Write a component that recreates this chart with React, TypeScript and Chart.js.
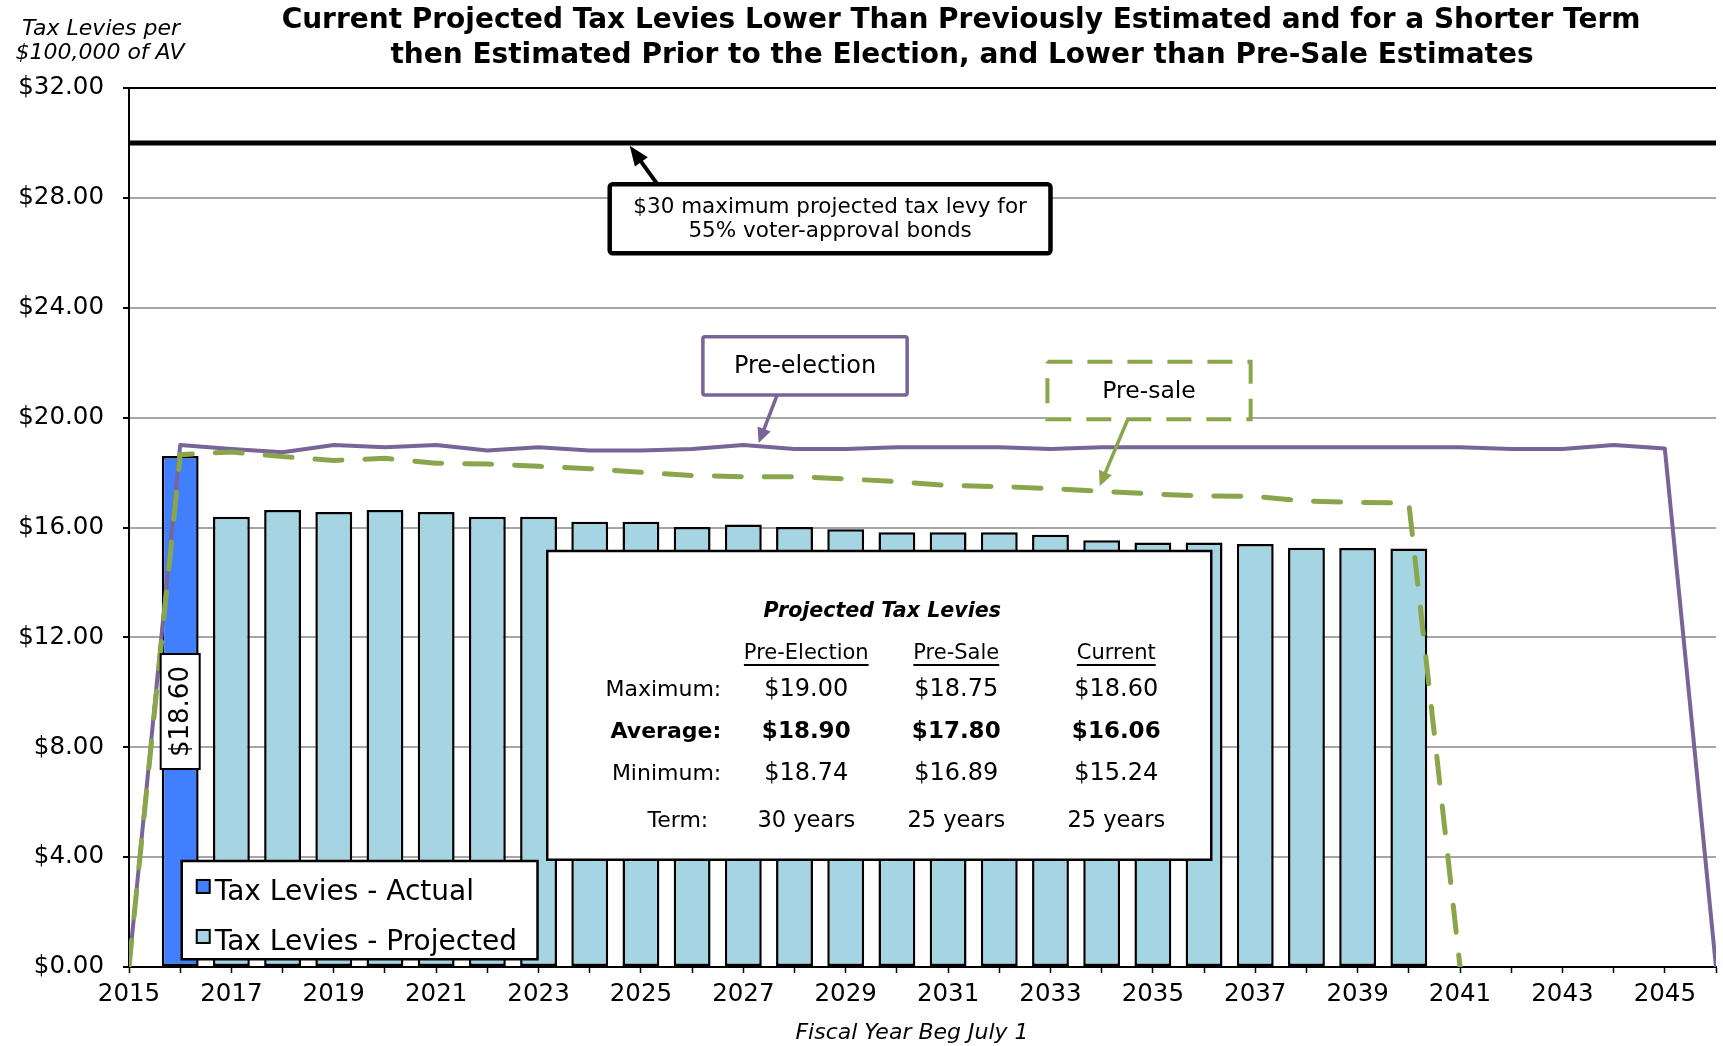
import React, { useEffect, useRef } from "react";
import { Chart, registerables } from "chart.js";

Chart.register(...registerables);

// Fiscal years (beginning July 1) on the x axis
const fiscalYears = [
  2015, 2016, 2017, 2018, 2019, 2020, 2021, 2022, 2023, 2024, 2025, 2026, 2027, 2028, 2029, 2030,
  2031, 2032, 2033, 2034, 2035, 2036, 2037, 2038, 2039, 2040, 2041, 2042, 2043, 2044, 2045, 2046,
];
const xTickLabels = [2015, 2017, 2019, 2021, 2023, 2025, 2027, 2029, 2031, 2033, 2035, 2037, 2039, 2041, 2043, 2045];

// Tax levies per $100,000 of assessed value, aligned with fiscalYears
const actualLevies: (number | null)[] = [
  null, 18.6, null, null, null, null, null, null, null, null, null, null, null, null, null, null,
  null, null, null, null, null, null, null, null, null, null, null, null, null, null, null, null,
];
const projectedLevies: (number | null)[] = [
  null, null, 16.39, 16.64, 16.56, 16.64, 16.56, 16.39, 16.39, 16.21, 16.21, 16.02, 16.11, 16.02, 15.94, 15.83,
  15.83, 15.83, 15.74, 15.54, 15.45, 15.45, 15.4, 15.26, 15.25, 15.24, null, null, null, null, null, null,
];
const preElectionLevies: (number | null)[] = [
  0, 19.0, 18.86, 18.74, 19.0, 18.92, 19.0, 18.8, 18.92, 18.8, 18.8, 18.86, 19.0, 18.86, 18.86, 18.92,
  18.92, 18.92, 18.86, 18.92, 18.92, 18.92, 18.92, 18.92, 18.92, 18.92, 18.92, 18.86, 18.86, 19.0, 18.88, 0,
];
const preSaleLevies: (number | null)[] = [
  0, 18.65, 18.75, 18.58, 18.44, 18.52, 18.34, 18.31, 18.23, 18.14, 18.01, 17.89, 17.85, 17.85, 17.77, 17.67,
  17.53, 17.49, 17.42, 17.32, 17.22, 17.15, 17.13, 16.96, 16.91, 16.89, 0, null, null, null, null, null,
];
const maxLevyLimit = 30;

const yAxisMax = 32;
const yAxisStep = 4;

const titleLines = [
  "Current Projected Tax Levies Lower Than Previously Estimated and for a Shorter Term",
  "then Estimated Prior to the Election, and Lower than Pre-Sale Estimates",
];
const yAxisTitleLines = ["Tax Levies per", "$100,000 of AV"];
const xAxisTitle = "Fiscal Year Beg July 1";
const maxCalloutLines = ["$30 maximum projected tax levy for", "55% voter-approval bonds"];
const summaryTitle = "Projected Tax Levies";
const summaryColumns = ["Pre-Election", "Pre-Sale", "Current"];
const summaryRows = ["Maximum:", "Average:", "Minimum:", "Term:"];

const FONT = '"DejaVu Sans", sans-serif';
const BLUE = "#4080FF";
const LIGHT_BLUE = "#A5D5E3";
const PURPLE = "#786497";
const GREEN = "#8AA64C";

const toPoints = (vals: (number | null)[]) =>
  fiscalYears.map((x, i) => ({ x, y: vals[i] })).filter((p) => p.y !== null) as { x: number; y: number }[];

const currentLevies = fiscalYears.map((_, i) => actualLevies[i] ?? projectedLevies[i]);

function levyStats(vals: (number | null)[]) {
  const nums = vals.filter((v) => v !== null && v > 0) as number[];
  const sum = nums.reduce((a, b) => a + b, 0);
  return {
    max: Math.max(...nums),
    avg: sum / nums.length,
    min: Math.min(...nums),
    term: nums.length,
  };
}

const money = (v: number) => "$" + v.toFixed(2);

function drawArrow(ctx: CanvasRenderingContext2D, x1: number, y1: number, x2: number, y2: number,
  color: string, width: number, headLen: number, headHalf: number) {
  const a = Math.atan2(y2 - y1, x2 - x1);
  const bx = x2 - Math.cos(a) * headLen;
  const by = y2 - Math.sin(a) * headLen;
  ctx.save();
  ctx.strokeStyle = color;
  ctx.fillStyle = color;
  ctx.lineWidth = width;
  ctx.lineCap = "butt";
  ctx.beginPath();
  ctx.moveTo(x1, y1);
  ctx.lineTo(bx + Math.cos(a) * 2, by + Math.sin(a) * 2);
  ctx.stroke();
  ctx.beginPath();
  ctx.moveTo(x2, y2);
  ctx.lineTo(bx + Math.sin(a) * headHalf, by - Math.cos(a) * headHalf);
  ctx.lineTo(bx - Math.sin(a) * headHalf, by + Math.cos(a) * headHalf);
  ctx.closePath();
  ctx.fill();
  ctx.restore();
}

function drawBox(ctx: CanvasRenderingContext2D, x1: number, y1: number, x2: number, y2: number,
  color: string, width: number, dash: number[] = [], radius = 2) {
  ctx.save();
  ctx.fillStyle = "#fff";
  ctx.strokeStyle = color;
  ctx.lineWidth = width;
  ctx.setLineDash(dash);
  ctx.beginPath();
  ctx.roundRect(x1, y1, x2 - x1, y2 - y1, radius);
  ctx.fill();
  ctx.stroke();
  ctx.restore();
}

function text(ctx: CanvasRenderingContext2D, s: string, x: number, y: number, font: string,
  align: CanvasTextAlign = "center") {
  ctx.font = font;
  ctx.textAlign = align;
  ctx.textBaseline = "middle";
  ctx.fillStyle = "#000";
  ctx.fillText(s, x, y);
}

const overlayPlugin = {
  id: "levyOverlay",
  afterDatasetsDraw(chart: any) {
    const { ctx } = chart;
    const xs = chart.scales.x;
    const ys = chart.scales.y;
    const px = (v: number) => xs.getPixelForValue(v);
    const py = (v: number) => ys.getPixelForValue(v);

    // value label on the actual-levy bar
    const actualIdx = actualLevies.findIndex((v) => v !== null);
    const actualVal = actualLevies[actualIdx] as number;
    {
      const cx = px(fiscalYears[actualIdx]);
      const cy = py(actualVal / 2);
      const label = money(actualVal);
      ctx.save();
      ctx.font = `26px ${FONT}`;
      const w = ctx.measureText(label).width;
      drawBox(ctx, cx - 19.5, cy - w / 2 - 12, cx + 19.5, cy + w / 2 + 12, "#000", 2, [], 0);
      ctx.translate(cx, cy);
      ctx.rotate(-Math.PI / 2);
      text(ctx, label, 0, 1, `26px ${FONT}`);
      ctx.restore();
    }

    // $30 limit callout
    drawArrow(ctx, px(2025.32), py(28.5), px(2024.78), py(29.9), "#000", 4, 20, 8);
    drawBox(ctx, px(2024.39), py(28.5), px(2033.0), py(25.98), "#000", 4.5, [], 3);
    {
      const cx = (px(2024.39) + px(2033.0)) / 2;
      const top = py(28.5);
      text(ctx, maxCalloutLines[0], cx, top + 23, `21.5px ${FONT}`);
      text(ctx, maxCalloutLines[1], cx, top + 47, `21.5px ${FONT}`);
    }

    // pre-election callout
    drawArrow(ctx, px(2027.66), py(20.82), px(2027.3), py(19.08), PURPLE, 3.5, 15, 7);
    drawBox(ctx, px(2026.21), py(22.94), px(2030.2), py(20.82), PURPLE, 3.5, [], 2);
    text(ctx, "Pre-election", (px(2026.21) + px(2030.2)) / 2, (py(22.94) + py(20.82)) / 2 + 1, `24px ${FONT}`);

    // pre-sale callout
    drawArrow(ctx, px(2034.51), py(19.94), px(2033.96), py(17.5), GREEN, 3.5, 15, 7);
    drawBox(ctx, px(2032.94), py(22.03), px(2036.91), py(19.94), GREEN, 4, [25, 15], 0);
    text(ctx, "Pre-sale", (px(2032.94) + px(2036.91)) / 2, (py(22.03) + py(19.94)) / 2 + 1, `23.5px ${FONT}`);

    // summary table
    {
      const x0 = px(2023.17);
      const y0 = py(15.14);
      drawBox(ctx, x0, y0, px(2036.14), py(3.9), "#000", 2.5, [], 0);
      text(ctx, summaryTitle, x0 + 335, y0 + 61, `italic bold 20.6px ${FONT}`);
      const colX = [259, 409, 569];
      const rowY = [139, 181, 223, 270];
      const stats = [levyStats(preElectionLevies), levyStats(preSaleLevies), levyStats(currentLevies)];
      summaryColumns.forEach((c, i) => {
        const cx = x0 + colX[i];
        const cy = y0 + 102;
        text(ctx, c, cx, cy, `21px ${FONT}`);
        const w = ctx.measureText(c).width;
        ctx.save();
        ctx.strokeStyle = "#000";
        ctx.lineWidth = 2;
        ctx.beginPath();
        ctx.moveTo(cx - w / 2, cy + 12);
        ctx.lineTo(cx + w / 2, cy + 12);
        ctx.stroke();
        ctx.restore();
      });
      summaryRows.forEach((r, j) => {
        const bold = j === 1 ? "bold " : "";
        const labelX = j === 3 ? 161 : 174;
        text(ctx, r, x0 + labelX, y0 + rowY[j], `${bold}22px ${FONT}`, "right");
        stats.forEach((s, i) => {
          const vals = [money(s.max), money(s.avg), money(s.min), `${s.term} years`];
          const size = j === 1 ? 23 : j === 3 ? 22.5 : 24;
          text(ctx, vals[j], x0 + colX[i], y0 + rowY[j], `${bold}${size}px ${FONT}`);
        });
      });
    }

    // legend for the bar series
    {
      const x0 = px(2016.03);
      const y0 = py(3.86);
      drawBox(ctx, x0, y0, px(2022.98), py(0.28), "#000", 2.5, [], 0);
      const bars = chart.data.datasets.filter((d: any) => d.type === "bar");
      bars.forEach((d: any, i: number) => {
        const ty = y0 + 31 + i * 50;
        ctx.save();
        ctx.fillStyle = d.backgroundColor;
        ctx.strokeStyle = "#000";
        ctx.lineWidth = 2;
        ctx.fillRect(x0 + 15, ty - 12, 13, 13);
        ctx.strokeRect(x0 + 15, ty - 12, 13, 13);
        ctx.restore();
        text(ctx, d.label, x0 + 33, ty + 1, `28px ${FONT}`, "left");
      });
    }
  },
  afterDraw(chart: any) {
    const { ctx, chartArea } = chart;
    text(ctx, titleLines[0], 961, 21, `bold 28px ${FONT}`);
    text(ctx, titleLines[1], 962, 56, `bold 28px ${FONT}`);
    text(ctx, yAxisTitleLines[0], 101, 29, `italic 22px ${FONT}`);
    text(ctx, yAxisTitleLines[1], 100, 53, `italic 22px ${FONT}`);
    text(ctx, xAxisTitle, 912, chartArea.bottom + 66, `italic 22px ${FONT}`);
  },
};

export default function App() {
  const canvasRef = useRef<HTMLCanvasElement | null>(null);

  useEffect(() => {
    const canvas = canvasRef.current;
    if (!canvas) return;
    const chart = new Chart(canvas, {
      type: "bar",
      data: {
        datasets: [
          {
            type: "line",
            label: "Pre-sale",
            data: toPoints(preSaleLevies),
            borderColor: GREEN,
            borderWidth: 5,
            borderDash: [27, 23],
            borderCapStyle: "round",
            pointRadius: 0,
            tension: 0,
            order: 0,
          },
          {
            type: "line",
            label: "Pre-election",
            data: toPoints(preElectionLevies),
            borderColor: PURPLE,
            borderWidth: 4,
            borderJoinStyle: "round",
            pointRadius: 0,
            tension: 0,
            order: 1,
          },
          {
            type: "line",
            label: "Maximum levy",
            data: [
              { x: fiscalYears[0], y: maxLevyLimit },
              { x: fiscalYears[fiscalYears.length - 1], y: maxLevyLimit },
            ],
            borderColor: "#000",
            borderWidth: 5,
            pointRadius: 0,
            order: 2,
          },
          {
            type: "bar",
            label: "Tax Levies - Actual",
            data: toPoints(actualLevies),
            backgroundColor: BLUE,
            borderColor: "#000",
            borderWidth: 2.5,
            borderSkipped: false,
            grouped: false,
            order: 3,
          },
          {
            type: "bar",
            label: "Tax Levies - Projected",
            data: toPoints(projectedLevies),
            backgroundColor: LIGHT_BLUE,
            borderColor: "#000",
            borderWidth: 2.5,
            borderSkipped: false,
            grouped: false,
            order: 4,
          },
        ] as any,
      },
      options: {
        responsive: false,
        animation: false,
        devicePixelRatio: 1,
        layout: { padding: { top: 88, right: 2, left: 0, bottom: 0 } },
        plugins: {
          legend: { display: false },
          title: { display: false },
          tooltip: { enabled: false },
        },
        scales: {
          x: {
            type: "linear",
            min: fiscalYears[0],
            max: fiscalYears[fiscalYears.length - 1],
            offset: false,
            ticks: {
              stepSize: 1,
              autoSkip: false,
              maxTicksLimit: 100,
              maxRotation: 0,
              padding: 7,
              color: "#000",
              font: { family: FONT, size: 24.5 },
              callback: (v: any) => (xTickLabels.includes(Number(v)) ? String(v) : ""),
            },
            grid: {
              drawOnChartArea: false,
              drawTicks: true,
              tickLength: 6,
              tickColor: "#000",
              tickWidth: 1.5,
              offset: false,
            },
            border: { color: "#000", width: 2 },
            afterFit: (s: any) => {
              s.height = 79;
            },
          },
          y: {
            type: "linear",
            min: 0,
            max: yAxisMax,
            ticks: {
              stepSize: yAxisStep,
              padding: 19,
              color: "#000",
              font: { family: FONT, size: 24.5 },
              callback: (v: any) => money(Number(v)),
            },
            grid: {
              color: (c: any) => (c.tick && c.tick.value === yAxisMax ? "#000" : "#A6A6A6"),
              lineWidth: 2,
              tickLength: 6,
              tickColor: "#000",
              drawTicks: true,
            },
            border: { color: "#000", width: 2 },
            afterFit: (s: any) => {
              s.width = 129;
            },
          },
        },
      } as any,
      plugins: [overlayPlugin],
    });
    return () => chart.destroy();
  }, []);

  return (
    <div style={{ position: "absolute", left: 0, top: 0, width: 1723, height: 1046, background: "#fff" }}>
      <canvas ref={canvasRef} width={1723} height={1046} style={{ display: "block" }} />
    </div>
  );
}
